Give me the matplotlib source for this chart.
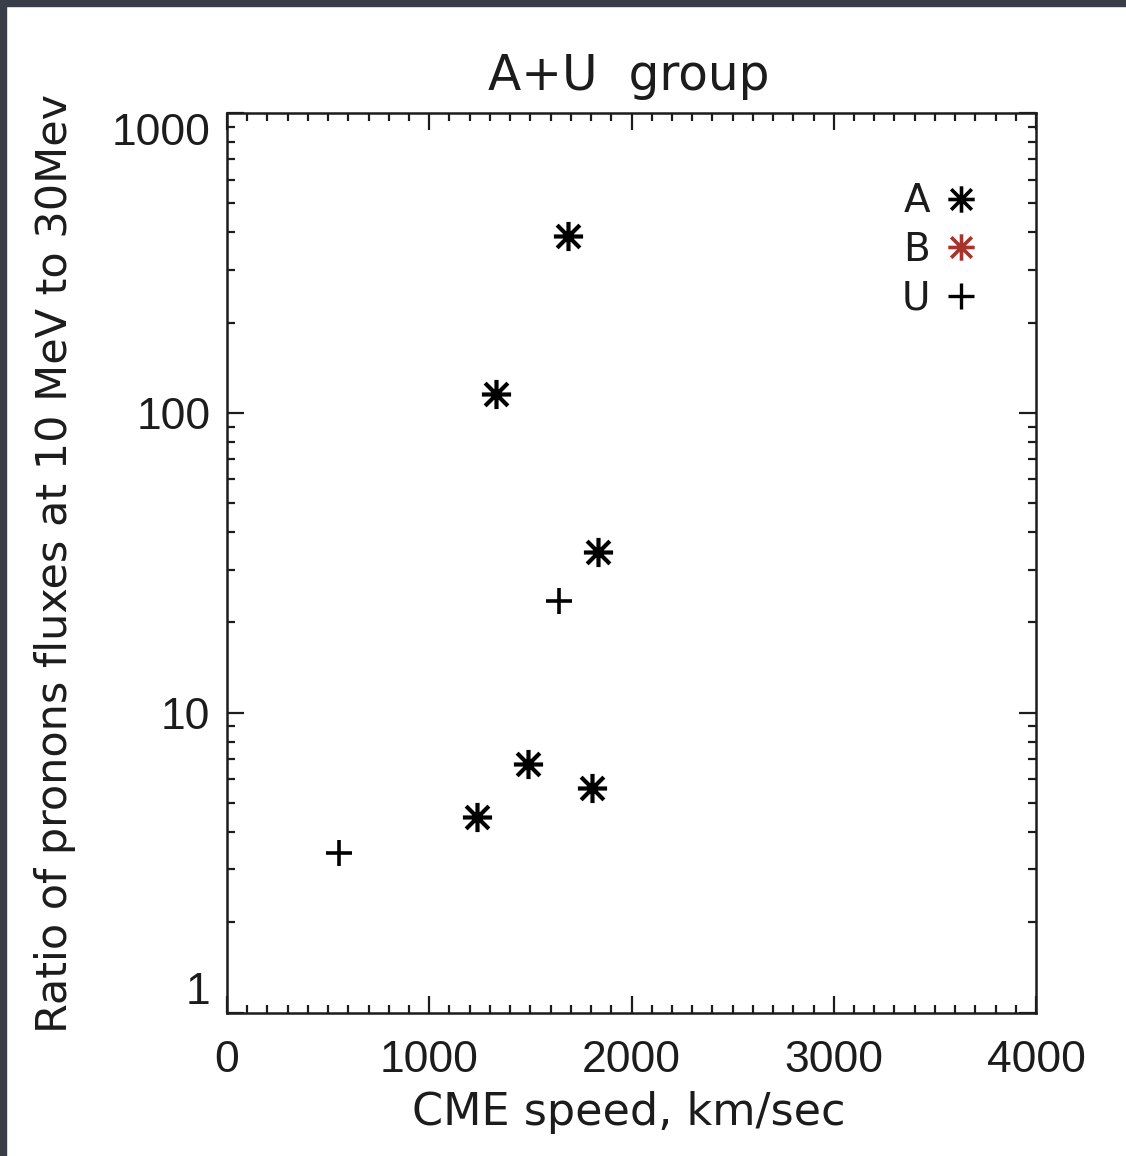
import matplotlib
matplotlib.use("Agg")
import matplotlib.pyplot as plt
from matplotlib.path import Path
from matplotlib.lines import Line2D
from matplotlib.ticker import FixedLocator, MultipleLocator, LogLocator, FuncFormatter, NullFormatter

# values
a_speed = [1686, 1330, 1834, 1488, 1805, 1236]
a_ratio = [390, 116, 34.3, 6.74, 5.6, 4.48]
u_speed = [1641, 554]
u_ratio = [23.5, 3.40]
legend_labels = ["A", "B", "U"]
x_ticks = [0, 1000, 2000, 3000, 4000]
y_ticks = [1, 10, 100, 1000]

ink = "#1c1c1c"
red = "#a5342c"

# IDL style asterisk: a plus and an x on top of each other
star = Path([(-1, 0), (1, 0), (0, -1), (0, 1),
             (-0.78, -0.78), (0.78, 0.78), (-0.78, 0.78), (0.78, -0.78)],
            [Path.MOVETO, Path.LINETO] * 4)

W, H = 1126, 1156
fig = plt.figure(figsize=(W / 100, H / 100), dpi=100)
fig.patch.set_facecolor("white")

# dark screenshot frame on the top and left edges
fig.patches.append(plt.Rectangle((0, 1 - 6 / H), 1, 6 / H, transform=fig.transFigure,
                                 color="#3a3e48", zorder=0))
fig.patches.append(plt.Rectangle((0, 0), 6 / W, 1, transform=fig.transFigure,
                                 color="#3a3e48", zorder=0))

left, right = 227 / W, 1036 / W
bottom, top = 1 - 1012.5 / H, 1 - 113 / H
ax = fig.add_axes([left, bottom, right - left, top - bottom])

ax.plot(a_speed, a_ratio, linestyle="none", marker=star, markersize=21,
        markeredgewidth=3.0, mfc="none", mec="black")
ax.plot(u_speed, u_ratio, linestyle="none", marker="+", markersize=19,
        markeredgewidth=2.6, color="black")

ax.set_yscale("log")
ax.set_xlim(0, 4000)
ax.set_ylim(1, 1000)

ax.xaxis.set_major_locator(FixedLocator(x_ticks))
ax.xaxis.set_minor_locator(MultipleLocator(100))
ax.yaxis.set_major_locator(FixedLocator(y_ticks))
ax.yaxis.set_minor_locator(LogLocator(base=10, subs=range(2, 10)))
ax.yaxis.set_major_formatter(FuncFormatter(lambda v, p: "%d" % v))
ax.yaxis.set_minor_formatter(NullFormatter())

for s in ax.spines.values():
    s.set_linewidth(1.8)
    s.set_color(ink)

ax.tick_params(which="both", direction="in", top=True, right=True, color=ink, width=1.6)
ax.tick_params(which="major", length=12)
ax.tick_params(which="minor", length=6)
ax.tick_params(axis="x", which="major", pad=20)
ax.tick_params(axis="y", which="major", pad=12)
for lab in ax.get_xticklabels() + ax.get_yticklabels():
    lab.set_fontfamily("Liberation Sans")
    lab.set_fontsize(32)
    lab.set_color(ink)

# IDL keeps the end labels inside the axis range
ylabs = ax.get_yticklabels()
ylabs[0].set_verticalalignment("bottom")
ylabs[-1].set_verticalalignment("top")

fig.text(629 / W, 1 - 90 / H, "A+U  group", ha="center", va="baseline",
         fontsize=35, color=ink, family="DejaVu Sans")
fig.text(629 / W, 1 - 1125 / H, "CME speed, km/sec", ha="center", va="baseline",
         fontsize=32, color=ink, family="DejaVu Sans")
fig.text(55 / W, 1 - 563 / H, "Ratio of pronons fluxes at 10 MeV to 30Mev",
         ha="center", va="center", rotation=90, fontsize=31, color=ink,
         family="DejaVu Sans")

handles = [
    Line2D([], [], linestyle="none", marker=star, markersize=19, markeredgewidth=2.6,
           mfc="none", mec="black"),
    Line2D([], [], linestyle="none", marker=star, markersize=19, markeredgewidth=2.6,
           mfc="none", mec=red),
    Line2D([], [], linestyle="none", marker="+", markersize=19, markeredgewidth=2.4,
           color="black"),
]
leg = ax.legend(handles, legend_labels, loc="upper right", bbox_to_anchor=(0.975, 0.962),
                frameon=False, markerfirst=False, handlelength=1.0, handletextpad=0.3,
                labelspacing=0.28, prop={"family": "DejaVu Sans", "size": 28})
for t in leg.get_texts():
    t.set_color(ink)

fig.savefig("out.png", dpi=100, facecolor="white")
